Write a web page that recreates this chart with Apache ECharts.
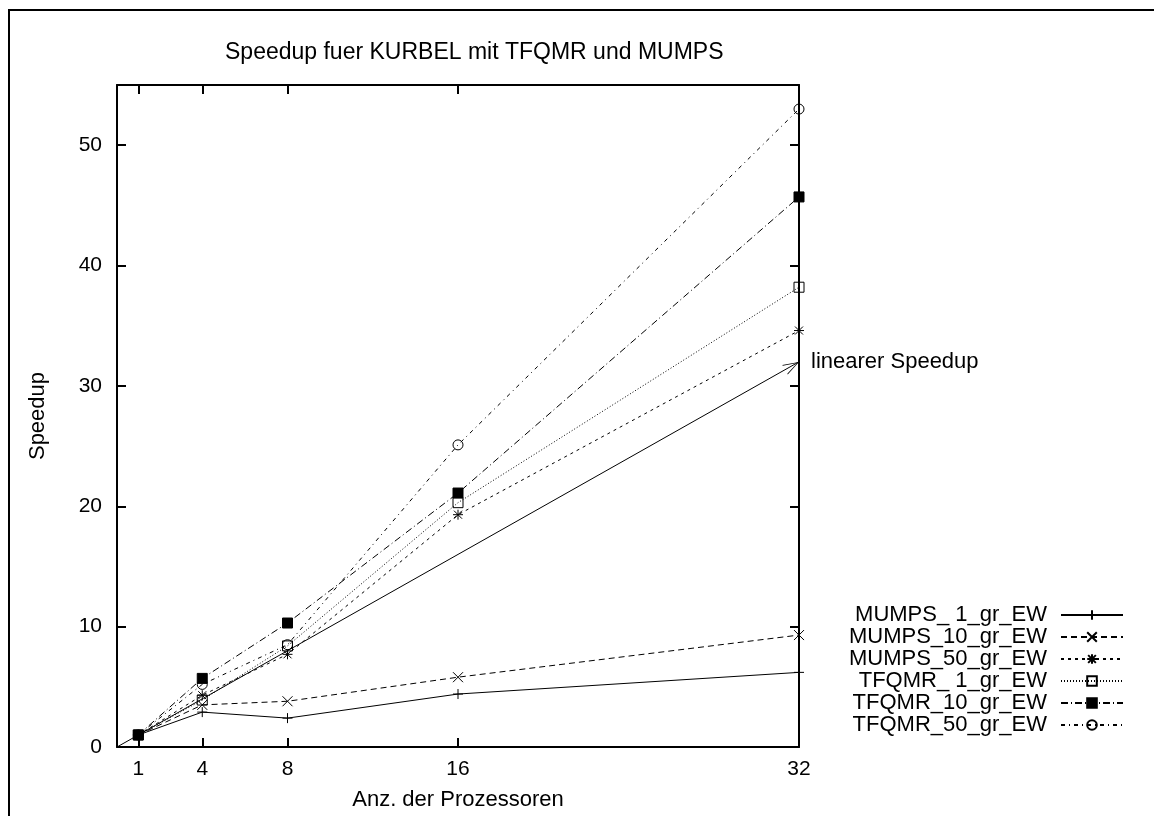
<!DOCTYPE html>
<html>
<head>
<meta charset="utf-8">
<script src="https://cdn.jsdelivr.net/npm/echarts@6/dist/echarts.min.js"></script>
<style>
html, body { margin: 0; padding: 0; background: #fff; }
#chart { width: 1154px; height: 816px; }
</style>
</head>
<body>
<div id="chart"></div>
<script>
var procs = [1, 4, 8, 16, 32];
var xTicks = [1, 4, 8, 16, 32];
var yTicks = [0, 10, 20, 30, 40, 50];
var seriesNames = ['MUMPS_ 1_gr_EW', 'MUMPS_10_gr_EW', 'MUMPS_50_gr_EW',
    'TFQMR_ 1_gr_EW', 'TFQMR_10_gr_EW', 'TFQMR_50_gr_EW'];
var mumps1 = [1, 2.9, 2.4, 4.4, 6.2];
var mumps10 = [1, 3.5, 3.8, 5.8, 9.3];
var mumps50 = [1, 4.3, 7.7, 19.3, 34.6];
var tfqmr1 = [1, 3.9, 8.4, 20.3, 38.2];
var tfqmr10 = [1, 5.7, 10.3, 21.1, 45.7];
var tfqmr50 = [1, 5.2, 8.5, 25.1, 53];
var linear = [[0, 0], [32, 32]];

var font = 'Liberation Sans, Arial, Helvetica, sans-serif';

function pts(vals) {
    return procs.map(function (p, i) { return [p, vals[i]]; });
}

function mkSeries(name, vals, symbol, fill, dash) {
    return {
        name: name,
        type: 'line',
        data: pts(vals),
        symbol: symbol,
        symbolSize: 10,
        showAllSymbol: true,
        itemStyle: { color: fill, borderColor: '#000', borderWidth: 1 },
        lineStyle: { color: '#000', width: 1, type: dash },
        emphasis: { disabled: true },
        z: 3
    };
}

// axis with gnuplot-like inward ticks
function mkAxis(pos, min, max, ticks, extra) {
    var a = {
        type: 'value',
        position: pos,
        min: min,
        max: max,
        axisLine: { show: true, onZero: false, lineStyle: { color: '#000', width: 2 } },
        axisTick: { show: true, inside: true, length: 9, customValues: ticks, lineStyle: { color: '#000', width: 2 } },
        axisLabel: { show: false, customValues: ticks },
        splitLine: { show: false }
    };
    for (var k in extra) a[k] = extra[k];
    return a;
}

var dom = document.getElementById('chart');
var myChart = echarts.init(dom);

var plusSym = 'path://M0,5L10,5M5,0L5,10';
var crossSym = 'path://M0,0L10,10M10,0L0,10';
var starSym = 'path://M0,5L10,5M5,0L5,10M1,1L9,9M9,1L1,9';
var arrowSym = 'path://M0,16L6,0L12,16L11,16L6,2L1,16Z';

var option = {
    animation: false,
    backgroundColor: '#fff',
    textStyle: { fontFamily: font, color: '#000' },
    title: {
        text: 'Speedup fuer KURBEL mit TFQMR und MUMPS',
        left: 220,
        top: 36,
        textStyle: { fontFamily: font, fontSize: 23, fontWeight: 'normal', color: '#000' }
    },
    legend: {
        data: seriesNames,
        orient: 'vertical',
        left: 842,
        top: 599,
        align: 'right',
        itemWidth: 62,
        itemHeight: 12,
        itemGap: 0,
        selectedMode: false,
        formatter: '{a|{name}}{b|}',
        textStyle: {
            rich: {
                a: { width: 200, align: 'right', fontSize: 22, lineHeight: 22, fontFamily: font, color: '#000' },
                b: { width: 9, lineHeight: 22 }
            }
        }
    },
    grid: { left: 117, top: 85, right: 355, bottom: 69, outerBoundsMode: 'none' },
    graphic: [{
        type: 'rect',
        shape: { x: 9, y: 10, width: 1300, height: 1000 },
        style: { fill: 'none', stroke: '#000', lineWidth: 2 },
        silent: true
    }],
    xAxis: [
        mkAxis('bottom', 0, 32, xTicks, {
            name: 'Anz. der Prozessoren',
            nameLocation: 'middle',
            nameGap: 42,
            nameTextStyle: { fontSize: 22, color: '#000', fontFamily: font },
            axisLabel: { show: true, customValues: xTicks, fontSize: 21, color: '#000', margin: 12, fontFamily: font }
        }),
        mkAxis('top', 0, 32, xTicks, {})
    ],
    yAxis: [
        mkAxis('left', 0, 55, yTicks, {
            name: 'Speedup',
            nameLocation: 'middle',
            nameGap: 68,
            nameRotate: 90,
            nameTextStyle: { fontSize: 22, color: '#000', fontFamily: font },
            axisLabel: { show: true, customValues: yTicks, fontSize: 21, color: '#000', margin: 15, fontFamily: font }
        }),
        mkAxis('right', 0, 55, yTicks, {})
    ],
    series: [
        mkSeries(seriesNames[0], mumps1, plusSym, 'none', 'solid'),
        mkSeries(seriesNames[1], mumps10, crossSym, 'none', [6, 4]),
        mkSeries(seriesNames[2], mumps50, starSym, 'none', [3, 4]),
        mkSeries(seriesNames[3], tfqmr1, 'rect', 'none', [1, 2]),
        mkSeries(seriesNames[4], tfqmr10, 'rect', '#000', [7, 3, 1, 3]),
        mkSeries(seriesNames[5], tfqmr50, 'circle', 'none', [4, 4, 1, 4]),
        {
            // linearer Speedup: gnuplot arrow from (0,0) to (32,32)
            name: 'linear',
            type: 'line',
            data: linear,
            symbol: 'none',
            silent: true,
            lineStyle: { color: '#000', width: 1, type: 'solid' },
            emphasis: { disabled: true },
            endLabel: {
                show: true,
                distance: 12,
                formatter: 'linearer Speedup',
                fontSize: 22,
                color: '#000',
                fontFamily: font
            },
            markPoint: {
                silent: true,
                symbol: arrowSym,
                symbolSize: [11, 16],
                symbolRotate: -60.5,
                symbolOffset: [-7, 4],
                itemStyle: { color: '#000' },
                label: { show: false },
                data: [{ coord: linear[1] }]
            }
        }
    ]
};

if (option && typeof option === 'object') {
    myChart.setOption(option, true);
}
</script>
</body>
</html>
